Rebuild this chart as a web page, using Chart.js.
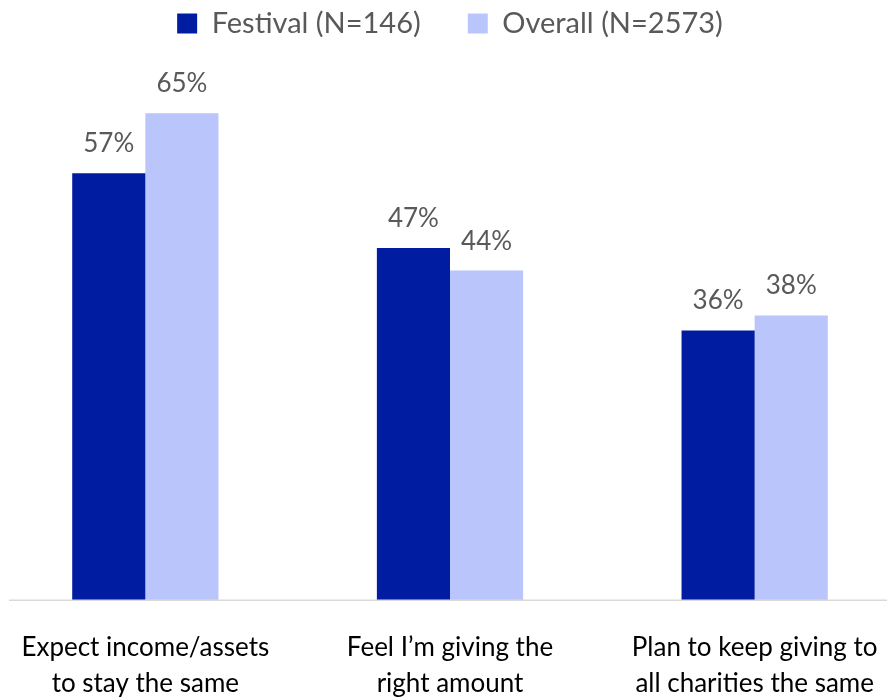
<!DOCTYPE html>
<html>
<head>
<meta charset="utf-8">
<script src="https://cdn.jsdelivr.net/npm/chart.js@4/dist/chart.umd.min.js"></script>
<style>
  html, body { margin: 0; padding: 0; background: #fff; overflow: hidden; }
  body { width: 887px; height: 698px; position: relative; }
  #wrap { position: absolute; left: -7px; top: 0; width: 914px; height: 698px; }
</style>
</head>
<body>
<div id="wrap"><canvas id="grafica"></canvas></div>
<script>
//Datos
const categorias = [
  ["Expect income/assets", "to stay the same"],
  ["Feel I\u2019m giving the", "right amount"],
  ["Plan to keep giving to", "all charities the same"]
];
const festival = [57, 47, 36];
const overall = [65, 44, 38];
const nombreSeries = ["Festival (N=146)", "Overall (N=2573)"];

//Colores
const azulOscuro = "#001ca0";
const azulClaro = "#bac5fb";
const gris = "#595959";

//Etiquetas de valor encima de cada barra y linea del eje
const etiquetas = {
  id: "etiquetas",
  afterDatasetsDraw(chart) {
    const ctx = chart.ctx;
    ctx.save();
    ctx.font = "26px Lato";
    ctx.fillStyle = gris;
    ctx.textAlign = "center";
    ctx.textBaseline = "alphabetic";
    chart.data.datasets.forEach((ds, i) => {
      chart.getDatasetMeta(i).data.forEach((bar, j) => {
        ctx.fillText(ds.data[j] + "%", bar.x, bar.y - 21);
      });
    });
    const y = chart.scales.y.getPixelForValue(0);
    ctx.strokeStyle = "#d9d9d9";
    ctx.lineWidth = 1.5;
    ctx.beginPath();
    ctx.moveTo(16, y);
    ctx.lineTo(chart.width, y);
    ctx.stroke();
    ctx.restore();
  }
};

const ctx = document.getElementById("grafica").getContext("2d");
const myChart = new Chart(ctx, {
  type: "bar",
  data: {
    labels: categorias,
    datasets: [
      {
        label: nombreSeries[0],
        data: festival,
        backgroundColor: azulOscuro,
        categoryPercentage: 0.48,
        barPercentage: 1
      },
      {
        label: nombreSeries[1],
        data: overall,
        backgroundColor: azulClaro,
        categoryPercentage: 0.48,
        barPercentage: 1
      }
    ]
  },
  options: {
    responsive: true,
    maintainAspectRatio: false,
    animation: false,
    layout: {
      padding: { top: -38, left: 0, right: 0, bottom: -25 }
    },
    plugins: {
      legend: {
        position: "top",
        labels: {
          boxWidth: 20,
          boxHeight: 20,
          padding: 47,
          color: gris,
          font: { family: "Lato", size: 29 }
        }
      },
      tooltip: { enabled: false }
    },
    scales: {
      x: {
        grid: { display: false },
        border: { display: false },
        ticks: {
          color: "#000",
          padding: 21,
          maxRotation: 0,
          font: { family: "Lato", size: 26, lineHeight: 1.4 }
        }
      },
      y: {
        display: false,
        min: 0,
        max: 73.7
      }
    }
  },
  plugins: [etiquetas]
});
</script>
</body>
</html>
